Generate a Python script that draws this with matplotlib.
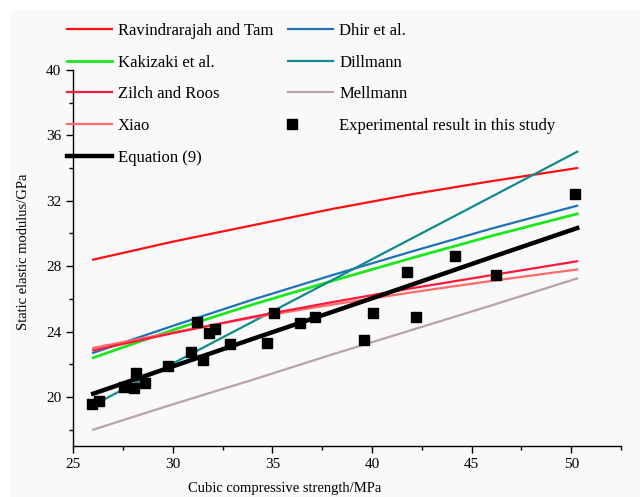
import matplotlib
matplotlib.use("Agg")
import matplotlib.pyplot as plt
from matplotlib.patches import Rectangle
from matplotlib.ticker import MultipleLocator
from matplotlib.legend_handler import HandlerLine2D

plt.rcParams['font.family'] = ['Liberation Serif', 'DejaVu Serif']

# Model curves (values at these strengths, MPa)
x_fit = [26, 30, 34, 38, 42, 46, 50.3]
ravindrarajah_tam = [28.4, 29.5, 30.5, 31.5, 32.4, 33.2, 34.0]
dhir = [22.7, 24.35, 25.95, 27.45, 28.9, 30.3, 31.7]
kakizaki = [22.4, 24.1, 25.65, 27.1, 28.5, 29.85, 31.2]
dillmann = [19.5, 22.05, 24.6, 27.15, 29.7, 32.25, 35.0]
zilch_roos = [22.85, 23.9, 24.9, 25.8, 26.65, 27.45, 28.3]
mellmann = [18.0, 19.55, 21.05, 22.6, 24.1, 25.6, 27.25]
xiao = [23.0, 23.95, 24.85, 25.65, 26.4, 27.1, 27.8]
equation9 = [20.2, 21.87, 23.55, 25.2, 26.87, 28.55, 30.33]

# Experimental results
exp_fcu = [25.92, 26.3, 27.53, 28.07, 28.15, 28.58, 29.75, 30.9, 31.2, 31.5,
           31.8, 32.1, 32.88, 34.72, 35.07, 36.36, 37.15, 39.62, 40.05, 41.74,
           42.21, 44.17, 46.21, 50.18]
exp_E = [19.55, 19.74, 20.59, 20.57, 21.49, 20.88, 21.92, 22.76, 24.56, 22.25,
         23.94, 24.13, 23.25, 23.27, 25.15, 24.51, 24.92, 23.51, 25.13, 27.65,
         24.92, 28.62, 27.43, 32.41]


class LeftMarkerHandler(HandlerLine2D):
    def create_artists(self, legend, orig_handle, xdescent, ydescent,
                       width, height, fontsize, trans):
        arts = super().create_artists(legend, orig_handle, xdescent, ydescent,
                                      width, height, fontsize, trans)
        for a in arts:
            if a.get_marker() not in (None, 'None', 'none', ''):
                a.set_xdata([-xdescent + 0.2 * fontsize])
        return arts


bg = '#f9f9f9'
fig = plt.figure(figsize=(6.4, 4.97), dpi=100, facecolor='white')
fig.patches.append(Rectangle((11/640, 0), 1 - 11/640, 1 - 10/497,
                             transform=fig.transFigure, facecolor=bg,
                             edgecolor='none', zorder=-10))
ax = fig.add_axes([73.3/640, 1 - 446/497, (621 - 73.3)/640, (446 - 70)/497])
ax.set_facecolor(bg)

lw = 1.6
h_rav, = ax.plot(x_fit, ravindrarajah_tam, color='#ff1010', lw=lw, label='Ravindrarajah and Tam')
h_kak, = ax.plot(x_fit, kakizaki, color='#1ee61e', lw=lw+0.4, label='Kakizaki et al.')
h_dhir, = ax.plot(x_fit, dhir, color='#1f72b8', lw=lw, label='Dhir et al.', zorder=1.9)
h_dill, = ax.plot(x_fit, dillmann, color='#108a8a', lw=lw, label='Dillmann')
h_xiao, = ax.plot(x_fit, xiao, color='#ff6a6a', lw=lw, label='Xiao')
h_zil, = ax.plot(x_fit, zilch_roos, color='#ff1a3c', lw=lw, label='Zilch and Roos')
h_mel, = ax.plot(x_fit, mellmann, color='#b9a1b1', lw=lw, label='Mellmann')
h_eq, = ax.plot(x_fit, equation9, color='black', lw=3.2, label='Equation (9)')
h_exp, = ax.plot(exp_fcu, exp_E, linestyle='none', marker='s', markersize=6.5,
                 color='black', label='Experimental result in this study', zorder=5)

ax.set_xlim(25, 52.5)
ax.set_ylim(17, 40)
ax.xaxis.set_major_locator(MultipleLocator(5))
ax.xaxis.set_minor_locator(MultipleLocator(2.5))
ax.yaxis.set_major_locator(MultipleLocator(4))
ax.yaxis.set_minor_locator(MultipleLocator(2))
ax.tick_params(which='major', length=5, width=1, labelsize=11, direction='out')
ax.tick_params(which='minor', length=3, width=1, direction='out')
for s in ['top', 'right']:
    ax.spines[s].set_visible(False)
for s in ['left', 'bottom']:
    ax.spines[s].set_linewidth(1)

ax.set_xlabel('Cubic compressive strength/MPa', fontsize=10.5)
ax.set_ylabel('Static elastic modulus/GPa', fontsize=10.5)
ax.xaxis.set_label_coords(0.385, -0.095)
ax.yaxis.set_label_coords(-0.079, 0.517)

handles = [h_rav, h_kak, h_zil, h_xiao, h_eq, h_dhir, h_dill, h_mel, h_exp]
fig.legend(handles=handles, labels=[h.get_label() for h in handles],
           loc='upper left', bbox_to_anchor=(67/640, 1 - 23/497), ncol=2,
           frameon=False, fontsize=12, handlelength=2.7, handletextpad=0.35,
           labelspacing=0.94, columnspacing=0.9, borderpad=0, borderaxespad=0,
           handler_map={h_exp: LeftMarkerHandler()})

fig.savefig('out.png', dpi=100, facecolor=fig.get_facecolor())
